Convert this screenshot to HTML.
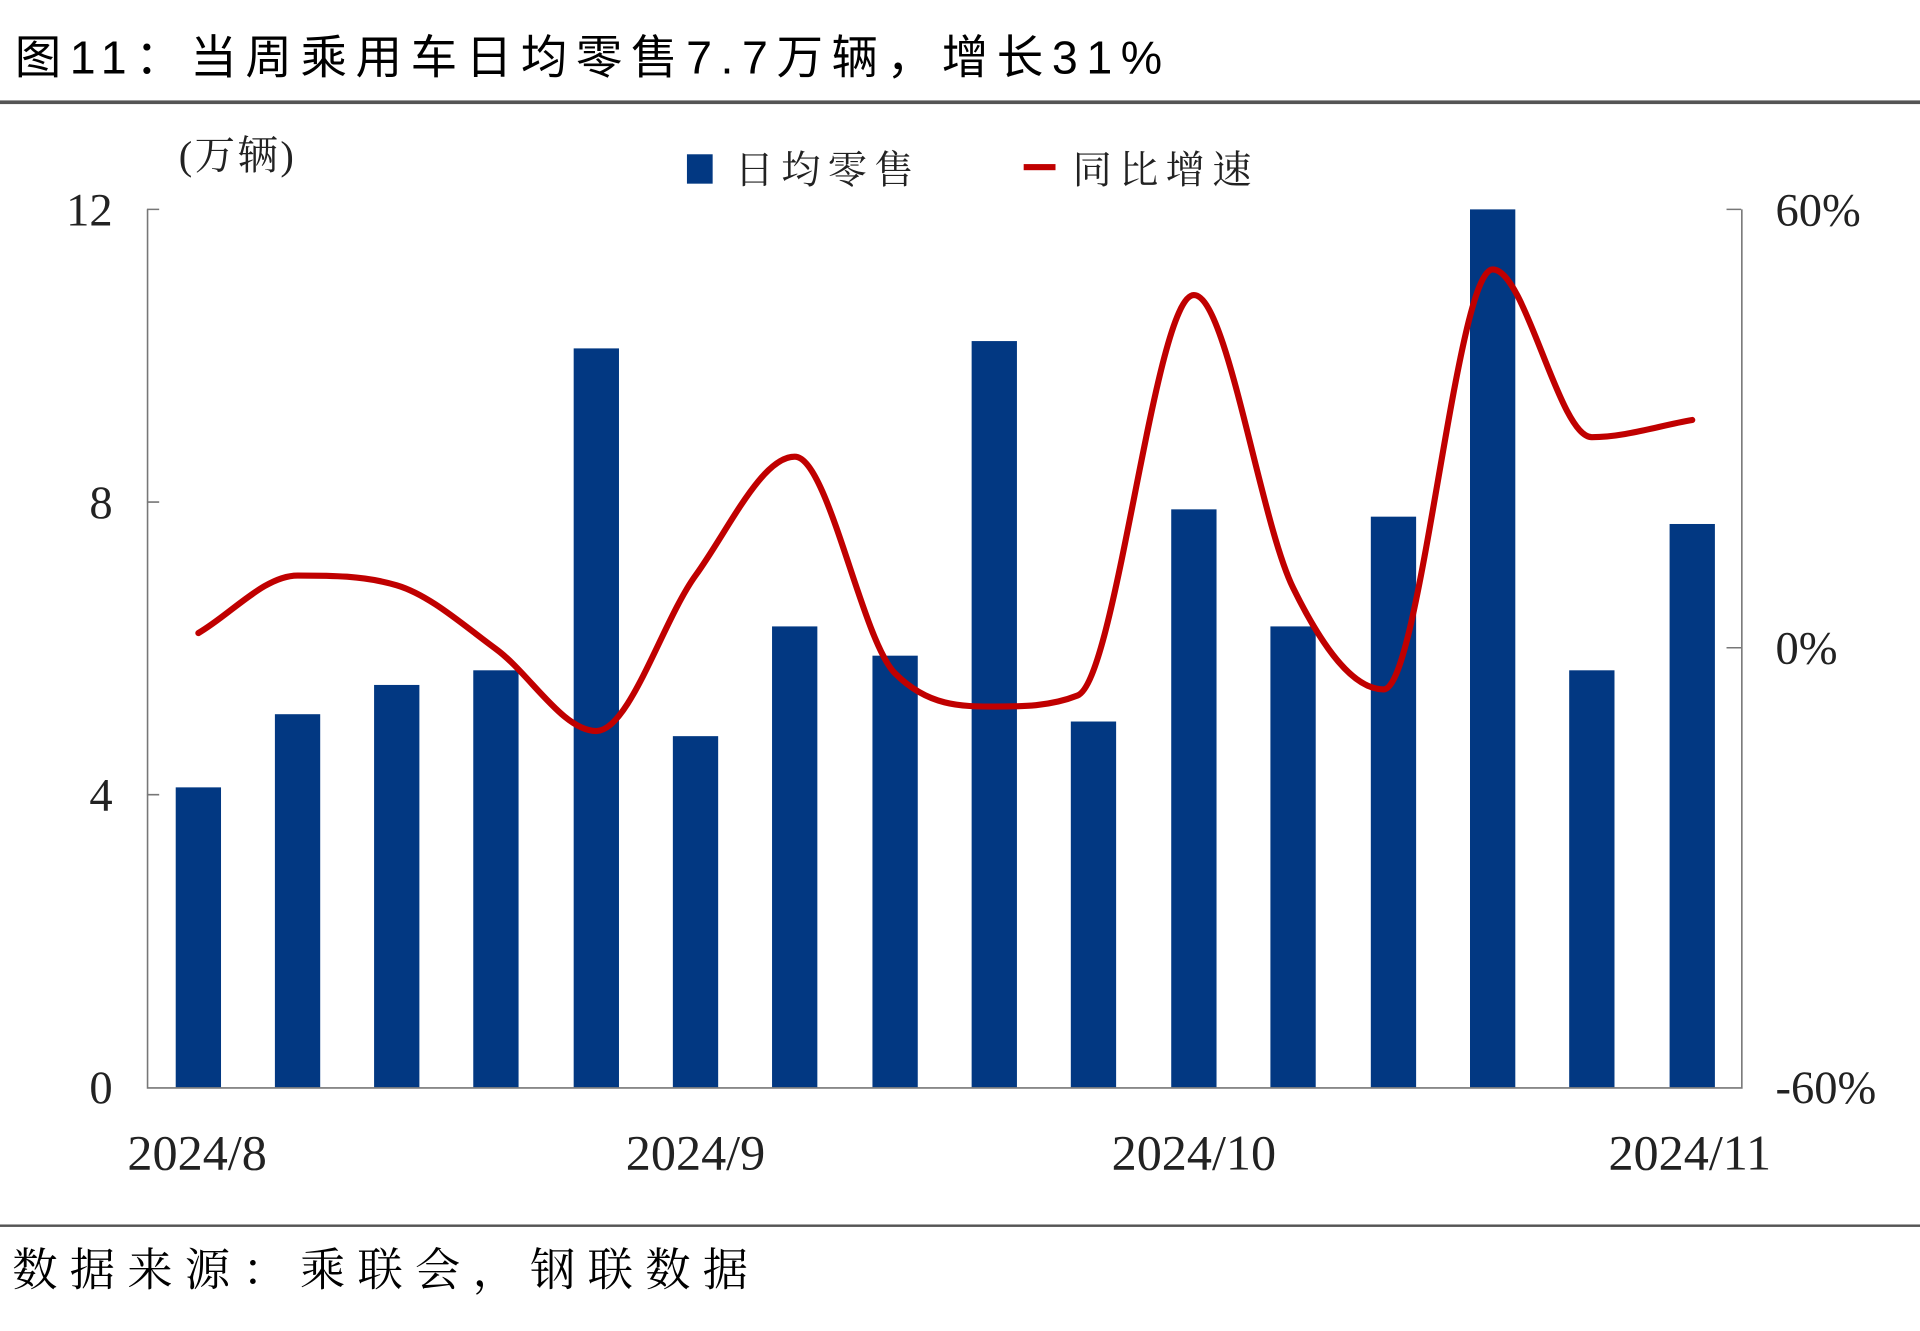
<!DOCTYPE html>
<html><head><meta charset="utf-8"><style>
html,body{margin:0;padding:0;background:#fff;}
svg{display:block;}
</style></head><body>
<svg id="s" width="1920" height="1331" viewBox="0 0 1568 1087" preserveAspectRatio="none" xmlns="http://www.w3.org/2000/svg">
<text x="12" y="60" font-family="'Liberation Sans','Noto Sans CJK SC',sans-serif" font-size="38" fill="#000" letter-spacing="7">图11：当周乘用车日均零售7.7万辆，增长31%</text>
<rect x="0" y="82" width="1568" height="3" fill="#555"/>
<text x="146" y="138" font-family="'Liberation Serif','Noto Serif CJK SC',serif" font-size="33" fill="#222" letter-spacing="2">(万辆)</text>
<rect x="561" y="126" width="21" height="24" fill="#023882"/>
<text x="600" y="150" font-family="'Liberation Serif','Noto Serif CJK SC',serif" font-size="32" fill="#222" letter-spacing="6">日均零售</text>
<rect x="836" y="134" width="26" height="5" fill="#c00000"/>
<text x="876" y="150" font-family="'Liberation Serif','Noto Serif CJK SC',serif" font-size="32" fill="#222" letter-spacing="6">同比增速</text>
<g id="bars" fill="#023882"></g>
<g stroke="#777" stroke-width="1.3" fill="none">
<path d="M120.5 171V888.5H1422.5V171"/>
<path d="M120 171h10M120 410h10M120 649h10M1422 171h-12M1422 529h-12"/>
</g>
<path id="ln" fill="none" stroke="#c00000" stroke-width="5" stroke-linejoin="round" stroke-linecap="round"/>
<g font-family="'Liberation Serif',serif" font-size="38" fill="#222">
<text x="92" y="184" text-anchor="end">12</text>
<text x="92" y="423" text-anchor="end">8</text>
<text x="92" y="662" text-anchor="end">4</text>
<text x="92" y="901" text-anchor="end">0</text>
<text x="1450" y="184">60%</text>
<text x="1450" y="542">0%</text>
<text x="1450" y="901">-60%</text>
</g>
<g font-family="'Liberation Serif',serif" font-size="41" fill="#222">
<text x="161" y="955" text-anchor="middle">2024/8</text>
<text x="568" y="955" text-anchor="middle">2024/9</text>
<text x="975" y="955" text-anchor="middle">2024/10</text>
<text x="1380" y="955" text-anchor="middle">2024/11</text>
</g>
<rect x="0" y="1000" width="1568" height="2" fill="#555"/>
<text x="10" y="1050" font-family="'Liberation Serif','Noto Serif CJK SC',serif" font-size="37" fill="#000" letter-spacing="10">数据来源：乘联会，钢联数据</text>
</svg>
<script>
var xs=[162,243,324,405,487,568,649,731,812,893,975,1056,1138,1219,1300,1382];
var v=[4.1,5.1,5.5,5.7,10.1,4.8,6.3,5.9,10.2,5.0,7.9,6.3,7.8,12,5.7,7.7];
var g=document.getElementById('bars'),h='';
xs.forEach(function(x,i){var y=888-v[i]*717/12;h+='<rect x="'+(x-18.5)+'" y="'+y+'" width="37" height="'+(888-y)+'"/>';});
g.innerHTML=h;
var px=[162,243,324,405,487,568,649,731,812,880,975,1056,1130,1219,1300,1382];
var ys=[517,470,478,530,597,470,373,550,577,568,241,480,563,220,357,343];
var n=px.length,d=[],m=[];
for(var i=0;i<n-1;i++)d.push((ys[i+1]-ys[i])/(px[i+1]-px[i]));
for(var i=0;i<n;i++){
 if(i==0)m.push(d[0]);else if(i==n-1)m.push(d[n-2]);
 else if(d[i-1]*d[i]<=0)m.push(0);else m.push((d[i-1]+d[i])/2);}
for(var i=0;i<n-1;i++){
 if(d[i]==0){m[i]=m[i+1]=0;continue;}
 var a=m[i]/d[i],b=m[i+1]/d[i],s=a*a+b*b;
 if(s>9){var t=3/Math.sqrt(s);m[i]=t*a*d[i];m[i+1]=t*b*d[i];}}
var p='M'+px[0]+' '+ys[0];
for(var i=0;i<n-1;i++){var hh=(px[i+1]-px[i])/3;
p+=' C'+(px[i]+hh)+' '+(ys[i]+m[i]*hh)+' '+(px[i+1]-hh)+' '+(ys[i+1]-m[i+1]*hh)+' '+px[i+1]+' '+ys[i+1];}
document.getElementById('ln').setAttribute('d',p);
</script>
</body></html>
